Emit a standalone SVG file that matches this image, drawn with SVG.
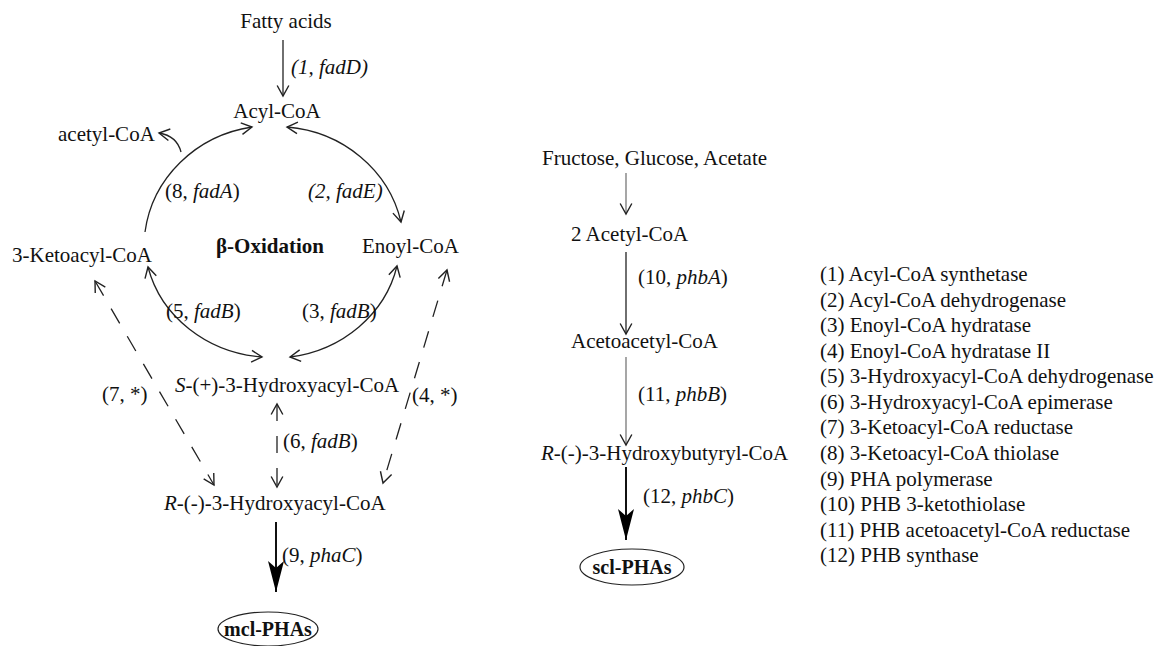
<svg xmlns="http://www.w3.org/2000/svg" width="1156" height="646" viewBox="0 0 1156 646">
<style>
text{font-family:"Liberation Serif","Times New Roman",serif;font-size:21px;fill:#111}
.i{font-style:italic}
.b{font-weight:bold}
.pha{font-weight:bold;font-size:20px}
.ln{fill:none;stroke:#222;stroke-width:1.3}
.lt{fill:none;stroke:#777;stroke-width:1.3}
.d{stroke-dasharray:17,15}
.th{fill:none;stroke:#111;stroke-width:2}
.el{fill:none;stroke:#222;stroke-width:1.2}
</style>
<defs>
<marker id="oa" markerUnits="userSpaceOnUse" markerWidth="14" markerHeight="14" refX="10" refY="6" orient="auto-start-reverse" viewBox="0 0 12 12">
<path d="M1,1 L10,6 L1,11" fill="none" stroke="#222" stroke-width="1.2"/>
</marker>
<marker id="fa" markerUnits="userSpaceOnUse" markerWidth="34" markerHeight="20" refX="31" refY="10" orient="auto" viewBox="0 0 34 20">
<path d="M0,2 L31,10 L0,18 L7,10 Z" fill="#000"/>
</marker>
</defs>
<g id="connectors">
<line class="ln" x1="283" y1="40" x2="283" y2="96" marker-end="url(#oa)"/>
<path class="ln" d="M145,232 A128,122 0 0,1 252,127" marker-end="url(#oa)"/>
<path class="ln" d="M181,152 Q177,136 159,133" marker-end="url(#oa)"/>
<path class="ln" d="M287,127 A128,122 0 0,1 401,222" marker-start="url(#oa)" marker-end="url(#oa)"/>
<path class="ln" d="M148,267 A128,118 0 0,0 262,357" marker-start="url(#oa)" marker-end="url(#oa)"/>
<path class="ln" d="M397,266 A128,118 0 0,1 290,357" marker-start="url(#oa)" marker-end="url(#oa)"/>
<line class="ln d" x1="95" y1="281" x2="214" y2="485" marker-start="url(#oa)" marker-end="url(#oa)"/>
<line class="ln d" x1="447" y1="270" x2="383" y2="483" marker-start="url(#oa)" marker-end="url(#oa)"/>
<line class="ln d" x1="277" y1="404" x2="277" y2="487" marker-start="url(#oa)" marker-end="url(#oa)"/>
<line class="th" x1="276" y1="522" x2="276" y2="592" marker-end="url(#fa)"/>
<line class="lt" x1="626" y1="173" x2="626" y2="214" marker-end="url(#oa)"/>
<line class="ln" x1="626" y1="252" x2="626" y2="334" marker-end="url(#oa)"/>
<line class="lt" x1="626" y1="357" x2="626" y2="445" marker-end="url(#oa)"/>
<line class="th" x1="626" y1="467" x2="626" y2="540" marker-end="url(#fa)"/>
</g>
<g id="n-fatty"><text x="286" y="28" text-anchor="middle">Fatty acids</text></g>
<g id="e-1"><text x="291" y="74" class="i">(1, fadD)</text></g>
<g id="n-acylcoa"><text x="277" y="118" text-anchor="middle">Acyl-CoA</text></g>
<g id="n-acetylcoa"><text x="58" y="141">acetyl-CoA</text></g>
<g id="e-8"><text x="165" y="198">(8, <tspan class="i">fadA</tspan>)</text></g>
<g id="e-2"><text x="308" y="198" class="i">(2, fadE)</text></g>
<g id="n-keto"><text x="12" y="262">3-Ketoacyl-CoA</text></g>
<g id="n-beta"><text x="216" y="253" class="b">β-Oxidation</text></g>
<g id="n-enoyl"><text x="362" y="253">Enoyl-CoA</text></g>
<g id="e-5"><text x="166" y="318">(5, <tspan class="i">fadB</tspan>)</text></g>
<g id="e-3"><text x="302" y="318">(3, <tspan class="i">fadB</tspan>)</text></g>
<g id="n-shydroxy"><text x="175" y="392"><tspan class="i">S</tspan>-(+)-3-Hydroxyacyl-CoA</text></g>
<g id="e-7"><text x="102" y="401">(7, *)</text></g>
<g id="e-4"><text x="412" y="402">(4, *)</text></g>
<g id="e-6"><text x="283" y="448">(6, <tspan class="i">fadB</tspan>)</text></g>
<g id="n-rhydroxy"><text x="164" y="510"><tspan class="i">R</tspan>-(-)-3-Hydroxyacyl-CoA</text></g>
<g id="e-9"><text x="282" y="562">(9, <tspan class="i">phaC</tspan>)</text></g>
<g id="n-mcl"><ellipse class="el" cx="268" cy="629" rx="50" ry="17"/><text x="268" y="636" text-anchor="middle" class="pha">mcl-PHAs</text></g>
<g id="n-sugars"><text x="542" y="165">Fructose, Glucose, Acetate</text></g>
<g id="n-2acetyl"><text x="571" y="241">2 Acetyl-CoA</text></g>
<g id="e-10"><text x="638" y="284">(10, <tspan class="i">phbA</tspan>)</text></g>
<g id="n-acetoacetyl"><text x="571" y="348">Acetoacetyl-CoA</text></g>
<g id="e-11"><text x="638" y="401">(11, <tspan class="i">phbB</tspan>)</text></g>
<g id="n-rbutyryl"><text x="541" y="460"><tspan class="i">R</tspan>-(-)-3-Hydroxybutyryl-CoA</text></g>
<g id="e-12"><text x="643" y="503">(12, <tspan class="i">phbC</tspan>)</text></g>
<g id="n-scl"><ellipse class="el" cx="632" cy="567" rx="52" ry="18"/><text x="632" y="574" text-anchor="middle" class="pha">scl-PHAs</text></g>
<g id="legend">
<text x="820" y="281">(1) Acyl-CoA synthetase</text>
<text x="820" y="307">(2) Acyl-CoA dehydrogenase</text>
<text x="820" y="332">(3) Enoyl-CoA hydratase</text>
<text x="820" y="358">(4) Enoyl-CoA hydratase II</text>
<text x="820" y="383">(5) 3-Hydroxyacyl-CoA dehydrogenase</text>
<text x="820" y="409">(6) 3-Hydroxyacyl-CoA epimerase</text>
<text x="820" y="434">(7) 3-Ketoacyl-CoA reductase</text>
<text x="820" y="460">(8) 3-Ketoacyl-CoA thiolase</text>
<text x="820" y="486">(9) PHA polymerase</text>
<text x="820" y="511">(10) PHB 3-ketothiolase</text>
<text x="820" y="537">(11) PHB acetoacetyl-CoA reductase</text>
<text x="820" y="562">(12) PHB synthase</text>
</g>
</svg>
